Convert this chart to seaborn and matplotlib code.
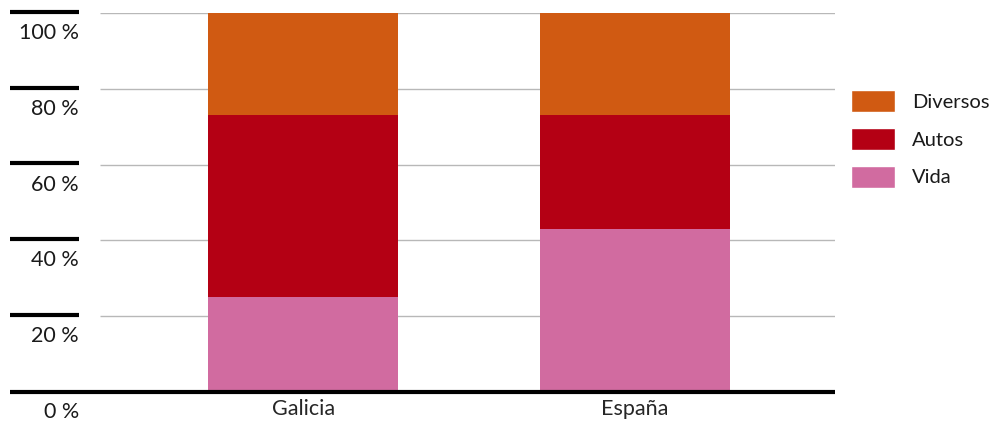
import numpy as np
import pandas as pd
import matplotlib
matplotlib.use("Agg")
import matplotlib.pyplot as plt
import seaborn as sns
from matplotlib.patches import Patch

regions = ["Galicia", "España"]
vida = [25, 43]
autos = [48, 30]
diversos = [27, 27]
series = ["Vida", "Autos", "Diversos"]
colors = {"Vida": "#D16BA0", "Autos": "#B40014", "Diversos": "#D05A12"}
yticks = [0, 20, 40, 60, 80, 100]
ytick_labels = ["0 %", "20 %", "40 %", "60 %", "80 %", "100 %"]

df = pd.DataFrame({"region": regions, "Vida": vida, "Autos": autos, "Diversos": diversos})
df["cum_Vida"] = df["Vida"]
df["cum_Autos"] = df["Vida"] + df["Autos"]
df["cum_Diversos"] = df["cum_Autos"] + df["Diversos"]

sns.set_style("white")
plt.rcParams["font.family"] = ["Lato", "DejaVu Sans"]
plt.rcParams["text.color"] = "#1a1a1a"

fig = plt.figure(figsize=(9.93, 4.22), dpi=100)
ax = fig.add_axes([10 / 993, 30 / 422, 825 / 993, 379 / 422])

# gridlines behind the bars
x_left = -0.883
x_right = 1.602
ax.hlines(yticks[1:], -0.611, x_right, color="#b8b8b8", linewidth=1.0, zorder=0)

# stacked bars: draw tallest cumulative first
for s in ["Diversos", "Autos", "Vida"]:
    sns.barplot(data=df, x="region", y="cum_" + s, order=regions, color=colors[s],
                width=0.572, saturation=1, linewidth=0, ax=ax, zorder=2)

# black marks with labels on the left
for v, lab in zip(yticks, ytick_labels):
    if v > 0:
        ax.plot([x_left, -0.675], [v + 0.3, v + 0.3], color="black", linewidth=3,
                solid_capstyle="butt", clip_on=False, zorder=3)
    ax.text(-0.675, v - 5.3, lab, ha="right", va="center", fontsize=15.5)

ax.plot([x_left, x_right], [0, 0], color="black", linewidth=3,
        solid_capstyle="butt", clip_on=False, zorder=4)

ax.set_xlim(x_left, x_right)
ax.set_ylim(0, 100)
ax.set_yticks([])
ax.set_xlabel("")
ax.set_ylabel("")
ax.tick_params(axis="x", length=0, pad=5, labelsize=15.5)
for sp in ax.spines.values():
    sp.set_visible(False)

handles = [Patch(facecolor=colors[s], label=s) for s in ["Diversos", "Autos", "Vida"]]
fig.legend(handles=handles, loc="center left", bbox_to_anchor=(851 / 993, (422 - 139) / 422),
           frameon=False, fontsize=14.5, handlelength=2.2, handleheight=1.32,
           handletextpad=0.82, labelspacing=0.77, borderpad=0, borderaxespad=0)

fig.savefig("out.png", dpi=100)
